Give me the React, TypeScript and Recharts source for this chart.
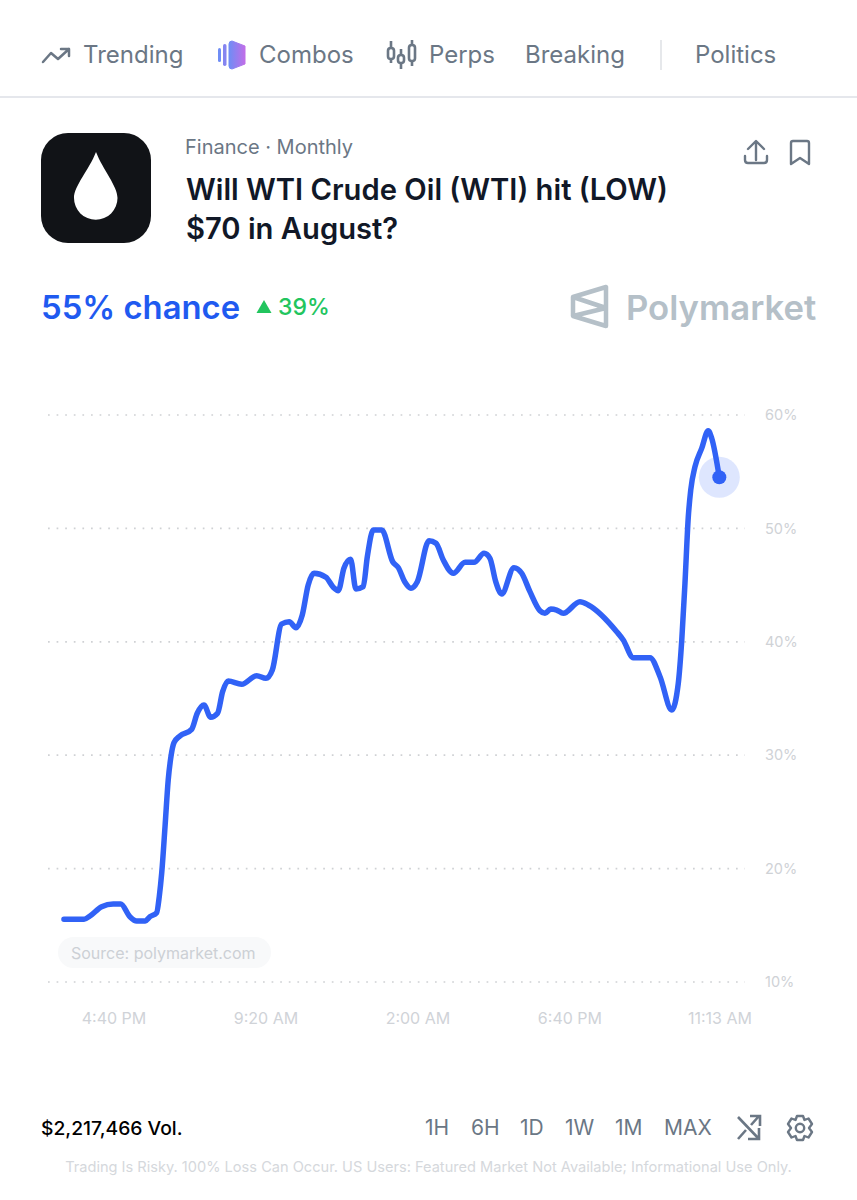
import React from "react"
import { CartesianGrid, Line, LineChart, XAxis, YAxis } from "recharts"

// minutes since the 4:40 PM tick
const minutes = [
  -329, -197, -158, -81, -5, 44, 105, 149, 206, 237, 281, 298, 314, 336, 357, 375, 395, 434, 511, 548,
  592, 636, 682, 715, 752, 840, 939, 1000, 1042, 1103, 1153, 1198, 1239, 1278, 1316, 1395, 1443, 1476, 1513, 1557,
  1592, 1640, 1667, 1706, 1762, 1834, 1871, 1915, 1954, 1996, 2073, 2119, 2167, 2233, 2310, 2369, 2435, 2474, 2512, 2551,
  2632, 2683, 2737, 2803, 2836, 2874, 2913, 2956, 3066, 3121, 3308, 3351, 3417, 3527, 3593, 3670, 3713, 3736, 3757, 3779,
  3795, 3823, 3867, 3910, 3933, 3983,
]
const chance = [
  15.53, 15.53, 15.82, 16.64, 16.88, 16.88, 15.76, 15.38, 15.38, 15.76, 16.11, 17.52, 19.58, 23.7, 27.81, 29.87, 31.1, 31.69, 32.28, 33.7,
  34.43, 33.34, 33.7, 35.6, 36.54, 36.25, 37.01, 36.78, 37.51, 41.57, 41.77, 41.24, 42.36, 45.01, 46.04, 45.69, 44.81, 44.51, 46.48, 47.28,
  44.66, 44.86, 47.5, 49.86, 49.86, 47.06, 46.54, 45.25, 44.72, 45.3, 48.92, 48.69, 47.21, 46.04, 47.01, 47.01, 47.8, 47.36, 45.3, 44.22,
  46.54, 46.04, 44.42, 42.74, 42.51, 42.89, 42.8, 42.51, 43.54, 43.25, 40.89, 40.16, 38.6, 38.6, 36.92, 33.99, 36.34, 40.16, 45.16, 51.03,
  53.39, 55.44, 57.06, 58.62, 57.95, 54.51,
]
const xTicks = [0, 1000, 2000, 3000, 3987]
const xLabels = ["4:40 PM", "9:20 AM", "2:00 AM", "6:40 PM", "11:13 AM"]
const yTicks = [10, 20, 30, 40, 50, 60]
const ranges = [
  { label: "1H", x: 425 },
  { label: "6H", x: 471 },
  { label: "1D", x: 520 },
  { label: "1W", x: 565 },
  { label: "1M", x: 615 },
  { label: "MAX", x: 664 },
]

const data = minutes.map((m, i) => ({ m, chance: chance[i] }))
const BLUE = "#3162f6"
const FONT = "Inter, sans-serif"

function Txt({ x, y, size, color, weight = 400, children }: any) {
  return (
    <div
      style={{
        position: "absolute",
        left: x,
        top: y - 30,
        height: 60,
        lineHeight: "60px",
        fontSize: size,
        color,
        fontWeight: weight,
        whiteSpace: "nowrap",
      }}
    >
      {children}
    </div>
  )
}

function EndDot(props: any) {
  const { cx, cy, index } = props
  if (index !== minutes.length - 1) return <g key={index} />
  return (
    <g key={index}>
      <circle cx={cx} cy={cy} r={20.5} fill={BLUE} fillOpacity={0.16} />
      <circle cx={cx} cy={cy} r={7} fill={BLUE} />
    </g>
  )
}

function Icons() {
  const gray = "#6b7785"
  return (
    <svg width={857} height={1200} style={{ position: "absolute", left: 0, top: 0 }}>
      <defs>
        <linearGradient id="combo" x1="0" x2="1" y1="0" y2="0">
          <stop offset="0" stopColor="#6f8df5" />
          <stop offset="1" stopColor="#c06ee8" />
        </linearGradient>
      </defs>
      {/* trending */}
      <path d="M43 62 L51 53 L58 59 L69 49 M61 49 L69 49 L69 56" fill="none" stroke={gray} strokeWidth={2.5} strokeLinejoin="round" strokeLinecap="round" />
      {/* combos */}
      <rect x={218} y={48} width={3} height={14} rx={1.5} fill="#6f8df5" />
      <rect x={223} y={44} width={3.5} height={22} rx={1.7} fill="#8585f0" />
      <path d="M229 44 Q229 41 232 41 L245 46 L245 64 L232 69 Q229 69 229 66 Z" fill="url(#combo)" stroke="url(#combo)" strokeWidth={1} strokeLinejoin="round" />
      {/* perps */}
      <g fill="none" stroke={gray} strokeWidth={2.6}>
        <path d="M391 41 V48 M391 59 V63 M401 49 V55 M401 63 V69 M412 40 V45 M412 61 V66" />
        <rect x={388} y={48} width={6} height={11} rx={2.8} />
        <rect x={398} y={55} width={6} height={8} rx={2.8} />
        <rect x={409} y={45} width={6} height={16} rx={2.8} />
      </g>
      <rect x={660} y={40} width={2} height={30} fill="#e6e8eb" />
      <rect x={0} y={96} width={857} height={2} fill="#e5e7ec" />
      {/* market logo */}
      <rect x={41} y={133} width={110} height={110} rx={27} fill="#111317" />
      <path d="M96 152 C103 170 117.5 186 117.5 198 A21.7 21.7 0 0 1 74 198 C74 186 89 170 96 152 Z" fill="#fff" />
      {/* share and bookmark */}
      <path d="M756 160 V142 M748 149 L756 141 L764 149 M745 156 V160 Q745 163 748 163 H764 Q767 163 767 160 V156" fill="none" stroke={gray} strokeWidth={2.4} strokeLinecap="round" strokeLinejoin="round" />
      <path d="M793 141 H807 Q809 141 809 143 V164 L800 158 L791 164 V143 Q791 141 793 141 Z" fill="none" stroke={gray} strokeWidth={2.4} strokeLinejoin="round" />
      {/* up arrow */}
      <path d="M264 300 L271.5 313 H256.5 Z" fill="#22c55e" />
      {/* polymarket mark */}
      <path d="M606 287 V326 L573 316 V297 Z M573 297 L606 308 M573 316 L606 308" fill="none" stroke="#b5c0c8" strokeWidth={4.5} strokeLinejoin="round" />
      {/* shuffle */}
      <path d="M738 1117 L759 1139 M759 1128 V1139 H748 M738 1139 L746 1130 M751 1125 L759 1116 M750 1116 H760 V1126" fill="none" stroke={gray} strokeWidth={2.6} />
      {/* settings */}
      <g fill="none" stroke={gray} strokeWidth={2.4}>
        <circle cx={800} cy={1128} r={4.2} />
        <path d="M797 1116 H803 L804.5 1120 L808.5 1118.5 L812 1124 L809 1128 L812 1132 L808.5 1137.5 L804.5 1136 L803 1140 H797 L795.5 1136 L791.5 1137.5 L788 1132 L791 1128 L788 1124 L791.5 1118.5 L795.5 1120 Z" strokeLinejoin="round" />
      </g>
    </svg>
  )
}

export default function App() {
  return (
    <div style={{ position: "absolute", left: 0, top: 0, width: 857, height: 1200, background: "#fff", fontFamily: FONT, overflow: "hidden" }}>
      <Icons />
      <Txt x={83} y={55} size={24} color="#6b7785">Trending</Txt>
      <Txt x={259} y={55} size={24} color="#6b7785">Combos</Txt>
      <Txt x={429} y={55} size={24} color="#6b7785">Perps</Txt>
      <Txt x={525} y={55} size={24} color="#6b7785">Breaking</Txt>
      <Txt x={695} y={55} size={24} color="#6b7785">Politics</Txt>
      <Txt x={185} y={147} size={20} color="#6b7785">Finance · Monthly</Txt>
      <Txt x={186} y={190} size={29.2} weight={600} color="#111827">Will WTI Crude Oil (WTI) hit (LOW)</Txt>
      <Txt x={186} y={229} size={29.2} weight={600} color="#111827">$70 in August?</Txt>
      <Txt x={41} y={307} size={32.8} weight={600} color="#1f5af0">55% chance</Txt>
      <Txt x={278} y={307} size={23} weight={500} color="#22c55e">39%</Txt>
      <Txt x={626} y={307} size={34.7} weight={600} color="#b5c0c8">Polymarket</Txt>

      <div style={{ position: "absolute", left: 58, top: 937, width: 213, height: 31, borderRadius: 16, background: "#f8f9fa" }} />
      <Txt x={71} y={953} size={16} color="#ccd0d5">Source: polymarket.com</Txt>

      <div style={{ position: "absolute", left: 0, top: 380 }}>
        <LineChart width={857} height={680} data={data} margin={{ top: 35, right: 0, bottom: 48, left: 48 }}>
          <CartesianGrid horizontal vertical={false} stroke="#cfd1d4" strokeWidth={1.7} strokeDasharray="1.7 6.9" />
          <XAxis
            dataKey="m"
            type="number"
            domain={[-434, 4152]}
            ticks={xTicks}
            tickFormatter={(v: number) => xLabels[xTicks.indexOf(v)]}
            axisLine={false}
            tickLine={false}
            tickMargin={25}
            interval={0}
            tick={{ fontSize: 16, fill: "#d0d3d8", fontFamily: FONT }}
          />
          <YAxis
            orientation="right"
            width={112}
            domain={[10, 60]}
            ticks={yTicks}
            tickFormatter={(v: number) => `${v}%`}
            axisLine={false}
            tickLine={false}
            tickMargin={14}
            tick={{ fontSize: 14.5, fill: "#cfd2d6", fontFamily: FONT }}
          />
          <Line
            type="monotone"
            dataKey="chance"
            stroke={BLUE}
            strokeWidth={5.5}
            strokeLinecap="round"
            strokeLinejoin="round"
            dot={EndDot}
            activeDot={false}
            isAnimationActive={false}
          />
        </LineChart>
      </div>

      <Txt x={41} y={1128} size={19.3} weight={500} color="#000">$2,217,466 Vol.</Txt>
      {ranges.map((r) => (
        <Txt key={r.label} x={r.x} y={1128} size={21} color="#6b7785">{r.label}</Txt>
      ))}
      <div style={{ position: "absolute", left: 0, width: 857, top: 1157, lineHeight: "20px", textAlign: "center", fontSize: 14.6, color: "#d5d8dc" }}>
        Trading Is Risky. 100% Loss Can Occur. US Users: Featured Market Not Available; Informational Use Only.
      </div>
    </div>
  )
}
